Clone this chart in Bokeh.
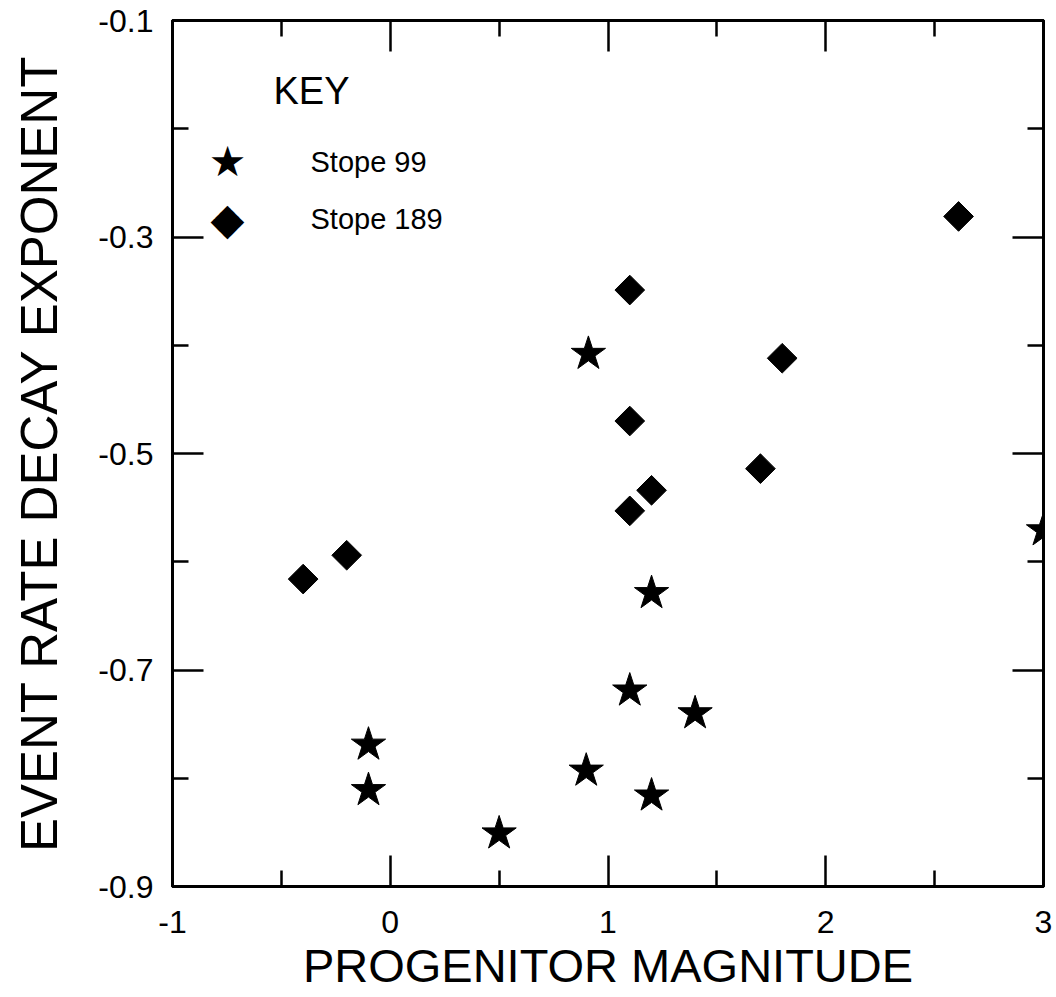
import math
from bokeh.plotting import figure
from bokeh.models import (LinearAxis, FixedTicker, Range1d, Label, PrintfTickFormatter)
from bokeh.embed import file_html
from bokeh.resources import INLINE

# ---- data ----
stope99_mag = [0.91, 1.20, 1.10, 1.40, 1.20, -0.10, -0.10, 0.50, 0.90, 3.00]
stope99_exp = [-0.408, -0.629, -0.719, -0.740, -0.816, -0.769, -0.811, -0.851, -0.793, -0.571]
stope189_mag = [2.61, 1.10, 1.80, 1.10, 1.70, 1.20, 1.10, -0.20, -0.40]
stope189_exp = [-0.281, -0.349, -0.412, -0.470, -0.514, -0.534, -0.553, -0.594, -0.616]

x_ticks = [-1, 0, 1, 2, 3]
x_minor = [-0.5, 0.5, 1.5, 2.5]
y_ticks = [-0.9, -0.7, -0.5, -0.3, -0.1]
y_minor = [-0.8, -0.6, -0.4, -0.2]

series_names = ["Stope 99", "Stope 189"]
key_title = "KEY"

FONT = "Liberation Sans"

p = figure(width=1056, height=997, x_range=Range1d(-1, 3), y_range=Range1d(-0.9, -0.1),
           output_backend="svg", toolbar_location=None,
           x_axis_location=None, y_axis_location=None,
           min_border_left=172, min_border_right=13, min_border_top=20, min_border_bottom=111)
p.grid.visible = False
p.outline_line_color = "black"
p.outline_line_width = 3
p.background_fill_color = "white"
p.border_fill_color = "white"


def make_axis(ticks, minor, fmt, labels, title=""):
    ax = LinearAxis(ticker=FixedTicker(ticks=ticks, minor_ticks=minor),
                    formatter=PrintfTickFormatter(format=fmt))
    ax.axis_line_width = 3
    ax.axis_line_color = "black"
    ax.major_tick_in = 31
    ax.major_tick_out = 0
    ax.minor_tick_in = 16
    ax.minor_tick_out = 0
    ax.major_tick_line_width = 2.5
    ax.minor_tick_line_width = 2.5
    ax.major_tick_line_color = "black"
    ax.minor_tick_line_color = "black"
    if labels:
        ax.major_label_text_font = FONT
        ax.major_label_text_font_size = "32px"
        ax.major_label_text_color = "black"
        ax.axis_label = title
        ax.axis_label_text_font = FONT
        ax.axis_label_text_font_style = "normal"
        ax.axis_label_text_color = "black"
    else:
        ax.major_label_text_color = None
        ax.major_label_standoff = 0
    return ax


xb = make_axis(x_ticks, x_minor, "%d", True, "PROGENITOR MAGNITUDE")
xb.major_label_standoff = 24
xb.axis_label_text_font_size = "47px"
xb.axis_label_standoff = 3
yl = make_axis(y_ticks, y_minor, "%.1f", True, "EVENT RATE DECAY EXPONENT")
yl.major_label_standoff = 19
yl.axis_label_text_font_size = "51px"
yl.axis_label_standoff = 27
xt = make_axis(x_ticks, x_minor, "%d", False)
yr = make_axis(y_ticks, y_minor, "%.1f", False)

p.add_layout(xb, "below")
p.add_layout(yl, "left")
p.add_layout(xt, "above")
p.add_layout(yr, "right")

p.scatter(stope99_mag, stope99_exp, marker="star", size=36,
          fill_color="black", line_color="black")
p.scatter(stope189_mag, stope189_exp, marker="square", size=21, angle=math.pi / 4,
          fill_color="black", line_color="black")

# ---- key (screen units, relative to the plot frame) ----
p.add_layout(Label(x=101, y=796, x_units="screen", y_units="screen", text=key_title,
                   text_font=FONT, text_font_size="38px", text_color="black",
                   text_baseline="alphabetic"))
for sym, name, ky, fsize in [("\u2605", series_names[0], 725, "42px"),
                              ("\u25C6", series_names[1], 668, "44px")]:
    p.add_layout(Label(x=55, y=ky, x_units="screen", y_units="screen", text=sym,
                       text_font="DejaVu Sans", text_font_size=fsize, text_color="black",
                       text_align="center", text_baseline="middle"))
    p.add_layout(Label(x=138, y=ky, x_units="screen", y_units="screen", text=name,
                       text_font=FONT, text_font_size="29px", text_color="black",
                       text_align="left", text_baseline="middle"))

open("out.html", "w").write(file_html(p, INLINE))
